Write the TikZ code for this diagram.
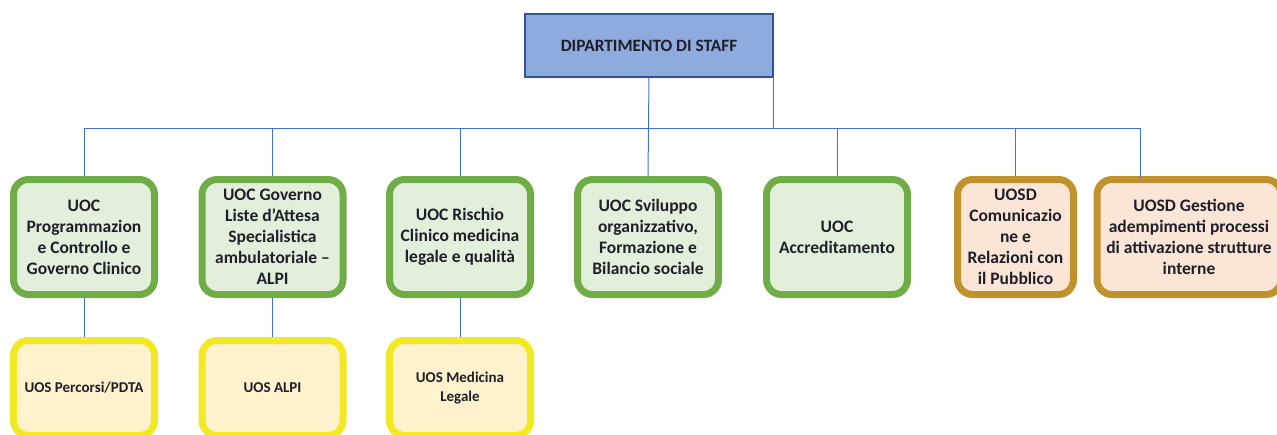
\documentclass[tikz,border=0pt]{standalone}
\usepackage{fontspec}
\setmainfont{Carlito}
\usepackage{tikz}

\definecolor{staffblue}{HTML}{8FAADC}
\definecolor{staffline}{HTML}{2F5597}
\definecolor{linkblue}{HTML}{4472C4}
\definecolor{uocline}{HTML}{70AD47}
\definecolor{uocfill}{HTML}{E2EFDA}
\definecolor{uosdline}{HTML}{C0922E}
\definecolor{uosdfill}{HTML}{FBE5D6}
\definecolor{uosline}{HTML}{F2E923}
\definecolor{uosfill}{HTML}{FFF2CC}
\definecolor{textdark}{HTML}{1F1F2A}

\tikzset{
    unit/.style={rounded corners=15pt, line width=7pt, align=center,
        font=\bfseries\fontsize{17.5}{21}\selectfont, text=textdark,
        minimum width=141pt, minimum height=115pt, inner sep=0pt},
    uoc/.style={unit, draw=uocline, fill=uocfill},
    uosd/.style={unit, draw=uosdline, fill=uosdfill},
    uos/.style={unit, draw=uosline, fill=uosfill, minimum height=95pt,
        font=\bfseries\fontsize{15}{19}\selectfont},
    link/.style={draw=linkblue, line width=1pt}
}

\begin{document}
\begin{tikzpicture}[x=1pt, y=-1pt]
        \useasboundingbox (0,0) rectangle (1277,434);

        % top
        \node[draw=staffline, fill=staffblue, line width=1.2pt, minimum width=248pt, minimum height=63pt,
              font=\bfseries\fontsize{17.3}{20}\selectfont, text=textdark] (staff) at (649,45.5) {DIPARTIMENTO DI STAFF};

        % UOC / UOSD row
        \node[uoc] (prog) at (84,237) {UOC\\Programmazion\\e Controllo e\\Governo Clinico};
        \node[uoc] (liste) at (272.5,237) {UOC Governo\\Liste d’Attesa\\Specialistica\\ambulatoriale --\\ALPI};
        \node[uoc] (rischio) at (460,237) {UOC Rischio\\Clinico medicina\\legale e qualità};
        \node[uoc] (sviluppo) at (648,237) {UOC Sviluppo\\organizzativo,\\Formazione e\\Bilancio sociale};
        \node[uoc] (accred) at (837,237) {UOC\\Accreditamento};
        \node[uosd, minimum width=116pt] (comunic) at (1015.5,237) {UOSD\\Comunicazio\\ne e\\Relazioni con\\il Pubblico};
        \node[uosd, minimum width=184pt] (gestione) at (1189,237) {UOSD Gestione\\adempimenti processi\\di attivazione strutture\\interne};

        % UOS row
        \node[uos] (percorsi) at (84,388) {UOS Percorsi/PDTA};
        \node[uos] (alpi) at (272.5,388) {UOS ALPI};
        \node[uos] (medleg) at (460,388) {UOS Medicina\\Legale};

        % links
        \coordinate (bus) at (0,128);
        \coordinate (gestin) at (1140,178);
        \draw[link] (staff.south) -- (sviluppo.north);
        \draw[link] (staff.south east) -- (staff.south east |- bus);
        \draw[link] (prog.north) -- (prog.north |- bus) -- (gestin |- bus) -- (gestin);
        \draw[link] (liste.north) -- (liste.north |- bus);
        \draw[link] (rischio.north) -- (rischio.north |- bus);
        \draw[link] (accred.north) -- (accred.north |- bus);
        \draw[link] (comunic.north) -- (comunic.north |- bus);

        \draw[link] (prog.south) -- (percorsi.north);
        \draw[link] (liste.south) -- (alpi.north);
        \draw[link] (rischio.south) -- (medleg.north);
    \end{tikzpicture}
\end{document}
